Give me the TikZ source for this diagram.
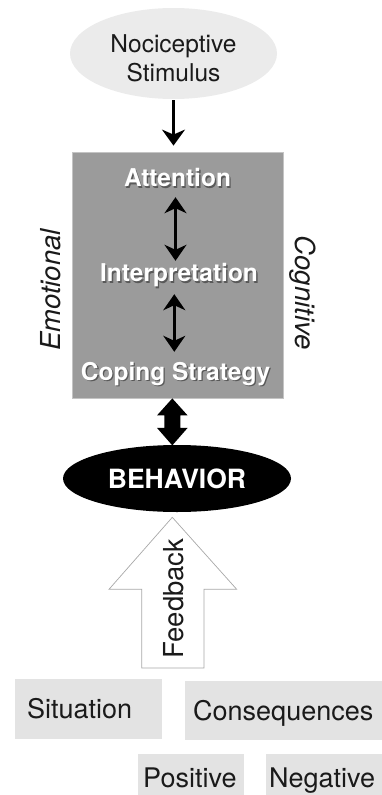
\documentclass[tikz,border=0pt]{standalone}
\usepackage{fontspec}
\setmainfont{TeX Gyre Heros}
\usetikzlibrary{arrows.meta,shapes.geometric,calc}
\definecolor{stimfill}{HTML}{EBEBEB}
\definecolor{procfill}{HTML}{9B9B9B}
\definecolor{procedge}{HTML}{C4C4C4}
\definecolor{tagfill}{HTML}{E3E3E3}
\definecolor{fbedge}{HTML}{A8A8A8}
\definecolor{ink}{HTML}{1A1A1A}
\begin{document}
\begin{tikzpicture}[x=1pt,y=-1pt,
  stage/.style={font=\bfseries\fontsize{24.5}{29}\selectfont, text=white,
    inner sep=0pt, anchor=base, text height=17.6pt, text depth=0pt},
  stageshadow/.style={stage, text=black!65},
  side/.style={font=\itshape\fontsize{27.5}{32}\selectfont, text=ink,
    inner sep=0pt, anchor=base},
  tag/.style={fill=tagfill, anchor=north west, inner ysep=0pt, text=ink,
    font=\fontsize{27}{32}\selectfont, text height=19.4pt, text depth=0pt},
  onewayarrow/.style={line width=2.4pt, draw=black,
    -{Stealth[length=16pt,width=23pt,inset=5pt]}},
  twoway/.style={line width=2.4pt, draw=black,
    {Stealth[length=16pt,width=22pt,inset=5pt]}-{Stealth[length=16pt,width=22pt,inset=5pt]}},
]
\useasboundingbox (0,0) rectangle (382,795);
\clip (0,0) rectangle (382,795);

% stimulus
\node[ellipse, fill=stimfill, minimum width=207pt, minimum height=91pt, inner sep=0pt,
  label={[font=\fontsize{24.5}{29}\selectfont, text=ink, align=center, yshift=-5pt]center:Nociceptive\\Stimulus}]
  (stim) at (173.5,53.5) {};

% processing block
\node[fill=procfill, draw=procedge, line width=0.8pt, minimum width=211pt,
  minimum height=246pt, inner sep=0pt] (proc) at (177.5,275) {};

\node[stageshadow] (attS) at (178.9,188.1) {Attention};
\node[stage] (att) at (177.5,186.7) {Attention};
\node[stageshadow] (interpS) at (180.4,283.1) {Interpretation};
\node[stage] (interp) at (179,281.7) {Interpretation};
\node[stageshadow] (copeS) at (176.9,381.4) {Coping Strategy};
\node[stage] (cope) at (175.5,380) {Coping Strategy};

\draw[onewayarrow, shorten >=6pt, shorten <=1pt] (stim.south) -- (stim.south |- proc.north);
\draw[twoway, shorten <=10.3pt, shorten >=3.1pt]
  ([xshift=-2pt]att.south) -- ([xshift=-2pt]att.south |- interp.north);
\draw[twoway, shorten <=12.3pt, shorten >=10.4pt]
  ([xshift=-4.7pt]interp.south) -- ([xshift=-4.7pt]interp.south |- cope.north);

% side labels
\node[side, rotate=90] (emo) at (60,290) {Emotional};
\node[side, rotate=-90] (cog) at (295,292.5) {Cognitive};

% behavior
\node[ellipse, fill=black, minimum width=228pt, minimum height=67pt, inner sep=0pt,
  text=white, font=\bfseries\fontsize{26.5}{30}\selectfont] (beh) at (177,478.5) {BEHAVIOR};

% heavy two-way link between processing block and behavior
\fill[black] ([xshift=-5.2pt]proc.south) -- ++(15.3,17) -- ++(-7.3,0) -- ++(0,12.5)
  -- ++(7.3,0) -- ++(-15.3,17.5) -- ++(-15.3,-17.5) -- ++(7.3,0) -- ++(0,-12.5)
  -- ++(-7.3,0) -- cycle;

% feedback block arrow
\draw[draw=fbedge, fill=white, line width=0.7pt, line join=miter]
  (172.3,517.3) -- (236.7,589.3) -- (204,589.3) -- (204,668) -- (141.7,668)
  -- (141.7,589.3) -- (109,589.3) -- cycle;
\node[side, font=\fontsize{27.5}{32}\selectfont, rotate=90] (fb) at (183.3,598.5) {Feedback};

% context tags
\node[tag, minimum height=60pt, inner xsep=12pt, text width=123pt] (sit) at (15,679) {Situation};
\node[tag, minimum height=59pt, inner xsep=8pt, text width=189pt] (cons) at (185,681) {Consequences};
\node[tag, minimum height=48pt, inner xsep=5pt, text width=96pt] (pos) at (138,754) {Positive};
\node[tag, minimum height=48pt, inner xsep=3pt, text width=118pt] (neg) at (266,754) {Negative};
\end{tikzpicture}
\end{document}
